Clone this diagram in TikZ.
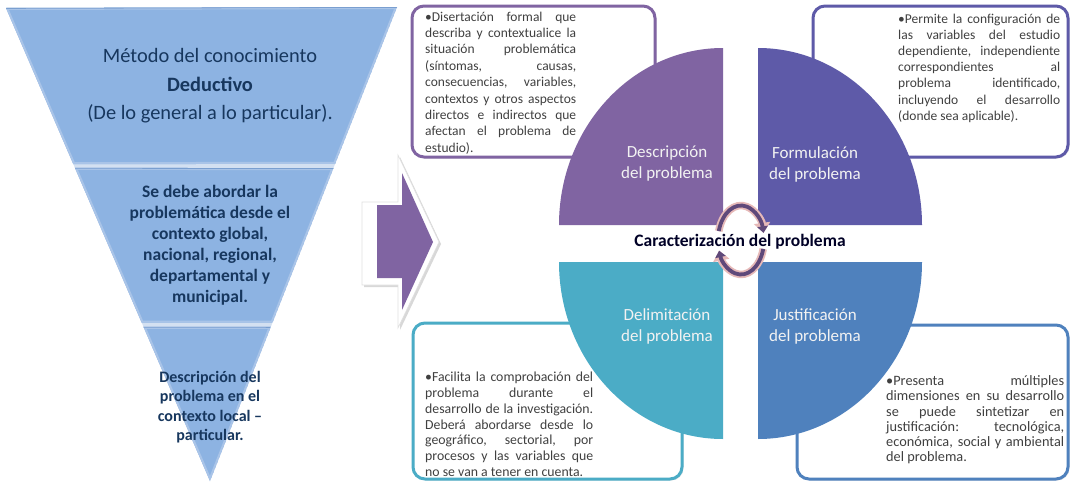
\documentclass[tikz,border=0pt]{standalone}
\usepackage{fontspec}
\setmainfont{Carlito}
\usetikzlibrary{calc,shadows,arrows.meta}
\definecolor{desc}{HTML}{8064A2}
\definecolor{form}{HTML}{5E5AA8}
\definecolor{deli}{HTML}{4BACC6}
\definecolor{just}{HTML}{4F81BD}
\definecolor{tri}{HTML}{8DB3E2}
\definecolor{trigap}{HTML}{D3E0F1}
\definecolor{trilight}{HTML}{A9C4E8}
\definecolor{tridark}{HTML}{7A9FD0}
\definecolor{navy}{HTML}{17375E}
\definecolor{boxtext}{HTML}{404040}
\definecolor{cyc}{HTML}{5F497A}
\definecolor{cycout}{HTML}{E6B9B8}
\definecolor{qtext}{HTML}{F2F2F2}
\begin{document}
\begin{tikzpicture}[x=1pt,y=-1pt,
  infobox/.style={draw=#1, line width=3pt, rounded corners=12pt, fill=white,
    drop shadow={opacity=0.18, shadow xshift=1.5pt, shadow yshift=-1.5pt}, inner sep=0pt},
  quadlabel/.style={text=qtext, font=\fontsize{17}{21}\selectfont, align=center, inner sep=0pt},
  boxtxt/.style={text=boxtext, text width=#1, align=justify, inner sep=0pt, anchor=north west},
  bandtxt/.style={text=navy, align=center, inner sep=0pt},
  cycline/.style={cyc, line width=3.8pt, -{Triangle[length=6.5pt,width=10.5pt]}},
  cycedge/.style={cycout, line width=7.5pt, -{Triangle[length=10pt,width=16pt]}}
]
\useasboundingbox (0,0) rectangle (1074,482);
\fill[white] (0,0) rectangle (1074,482);

% ---------- inverted triangle ----------
\coordinate (TL) at (6,8);
\coordinate (TR) at (397,7);
\coordinate (T) at (210,481);
\coordinate (A1) at ($(TL)!0.330!(T)$);
\coordinate (A2) at ($(TR)!0.331!(T)$);
\coordinate (B1) at ($(TL)!0.338!(T)$);
\coordinate (B2) at ($(TR)!0.340!(T)$);
\coordinate (C1) at ($(TL)!0.665!(T)$);
\coordinate (C2) at ($(TR)!0.666!(T)$);
\coordinate (D1) at ($(TL)!0.674!(T)$);
\coordinate (D2) at ($(TR)!0.675!(T)$);
\fill[trigap] (TL) -- (TR) -- (T) -- cycle;
\begin{scope}
  \clip (TL) -- (TR) -- (A2) -- (A1) -- cycle;
  \fill[tri] (TL) -- (TR) -- (A2) -- (A1) -- cycle;
  \draw[trilight, line width=4pt] (TL) -- (TR) -- (A2) -- (A1) -- cycle;
  \draw[tridark, line width=1.6pt] (TL) -- (TR);
\end{scope}
\begin{scope}
  \clip (B1) -- (B2) -- (C2) -- (C1) -- cycle;
  \fill[tri] (B1) -- (B2) -- (C2) -- (C1) -- cycle;
  \draw[trilight, line width=4pt] (B1) -- (B2) -- (C2) -- (C1) -- cycle;
  \draw[tridark, line width=1.6pt] (B1) -- (B2);
\end{scope}
\begin{scope}
  \clip (D1) -- (D2) -- (T) -- cycle;
  \fill[tri] (D1) -- (D2) -- (T) -- cycle;
  \draw[trilight, line width=4pt] (D1) -- (D2) -- (T) -- cycle;
  \draw[tridark, line width=1.6pt] (D1) -- (D2);
\end{scope}

\node[bandtxt, font=\fontsize{20.4}{28.5}\selectfont] (b1) at (210,86)
  {Método del conocimiento\\\textbf{Deductivo}\\(De lo general a lo particular).};
\node[bandtxt, font=\bfseries\fontsize{17.5}{21}\selectfont] (b2) at (210,245)
  {Se debe abordar la\\problemática desde el\\contexto global,\\nacional, regional,\\departamental y\\municipal.};
\node[bandtxt, font=\bfseries\fontsize{16}{19.5}\selectfont] (b3) at (210,407)
  {Descripción del\\problema en el\\contexto local –\\particular.};

% ---------- big arrow ----------
\path[fill=white, draw=black!12, line width=0.6pt,
  drop shadow={opacity=0.3, shadow xshift=2pt, shadow yshift=-2pt}]
  (362,202) -- (398,202) -- (398,155) -- (439,242) -- (398,328) -- (398,285) -- (362,285) -- cycle;
\fill[desc] (377,205) -- (402,205) -- (402,173) -- (433,242) -- (402,310) -- (402,278) -- (377,278) -- cycle;

% ---------- boxes ----------
\node[infobox=desc, minimum width=243pt, minimum height=151pt] (box1) at (533.5,81.5) {};
\node[infobox=form, minimum width=255pt, minimum height=151pt] (box2) at (940.5,81.5) {};
\node[infobox=deli, minimum width=269pt, minimum height=156pt] (box3) at (547.5,401) {};
\node[infobox=just, minimum width=271pt, minimum height=154pt] (box4) at (932.5,402) {};

% ---------- quadrants ----------
\fill[desc] (723,225) -- (559,225) arc[start angle=180, end angle=270, x radius=164, y radius=177] -- cycle;
\fill[form] (758,225) -- (758,48) arc[start angle=270, end angle=360, x radius=164, y radius=177] -- cycle;
\fill[deli] (723,262) -- (559,262) arc[start angle=180, end angle=90, x radius=164, y radius=177] -- cycle;
\fill[just] (758,262) -- (922,262) arc[start angle=0, end angle=90, x radius=164, y radius=177] -- cycle;

\node[quadlabel] (q1) at (667,164) {Descripción\\del problema};
\node[quadlabel] (q2) at (815,164) {Formulación\\del problema};
\node[quadlabel] (q3) at (667,326) {Delimitación\\del problema};
\node[quadlabel] (q4) at (815,326) {Justificación\\del problema};

% ---------- cycle arrows ----------
\coordinate (cc) at (741,240);
\draw[cycedge] ([shift={(195:23 and 34.5)}]cc) arc[start angle=195, end angle=348, x radius=23, y radius=34.5];
\draw[cycline] ([shift={(195:23 and 34.5)}]cc) arc[start angle=195, end angle=348, x radius=23, y radius=34.5];
\draw[cycedge] ([shift={(15:23 and 34.5)}]cc) arc[start angle=15, end angle=162, x radius=23, y radius=34.5];
\draw[cycline] ([shift={(15:23 and 34.5)}]cc) arc[start angle=15, end angle=162, x radius=23, y radius=34.5];

\node[text=black!85!blue, font=\bfseries\fontsize{17.5}{21}\selectfont, inner sep=0pt] (car) at (740,242) {Caracterización del problema};

% ---------- box texts ----------
\node[boxtxt=151pt, font=\fontsize{13.5}{16.4}\selectfont] (t1) at (425,11.5)
  {\noindent\hangindent=2pt\hangafter=1 •Disertación formal que\linebreak describa y contextualice la\linebreak situación problemática\linebreak (síntomas, causas,\linebreak consecuencias, variables,\linebreak contextos y otros aspectos\linebreak directos e indirectos que\linebreak afectan el problema de\linebreak estudio).};
\node[boxtxt=162pt, font=\fontsize{13.5}{16.2}\selectfont] (t2) at (898,13.5)
  {\noindent\hangindent=2pt\hangafter=1 •Permite la configuración de\linebreak las variables del estudio\linebreak dependiente, independiente\linebreak correspondientes al\linebreak problema identificado,\linebreak incluyendo el desarrollo\linebreak (donde sea aplicable).};
\node[boxtxt=168pt, font=\fontsize{13.8}{15.8}\selectfont] (t3) at (425,372)
  {\noindent\hangindent=2pt\hangafter=1 •Facilita la comprobación del\linebreak problema durante el\linebreak desarrollo de la investigación.\linebreak Deberá abordarse desde lo\linebreak geográfico, sectorial, por\linebreak procesos y las variables que\linebreak no se van a tener en cuenta.};
\node[boxtxt=178pt, font=\fontsize{14.3}{15.2}\selectfont] (t4) at (886,375.5)
  {\noindent\hangindent=2pt\hangafter=1 •Presenta múltiples\linebreak dimensiones en su desarrollo\linebreak se puede sintetizar en\linebreak justificación: tecnológica,\linebreak económica, social y ambiental\linebreak del problema.};
\end{tikzpicture}
\end{document}
